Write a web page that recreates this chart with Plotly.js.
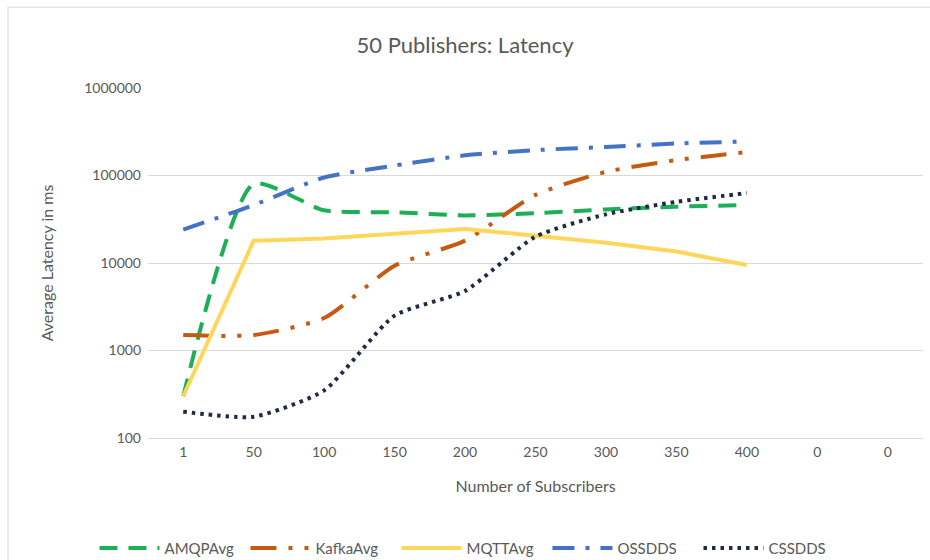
<!DOCTYPE html>
<html>
<head>
<meta charset="utf-8">
<script src="https://cdn.plot.ly/plotly-3.0.1.min.js"></script>
<style>html,body{margin:0;padding:0;background:#fff;}#chart{width:930px;height:560px;}</style>
</head>
<body>
<div id="chart"></div>
<script>
// Category tick labels (as in the source; last two read "0")
var tickLabels = ["1", "50", "100", "150", "200", "250", "300", "350", "400", "0", "0"];
// Series values (ms), one per category with data
var amqpAvg  = [300, 80000, 40000, 38000, 35000, 37000, 41000, 44000, 46000];
var kafkaAvg = [1500, 1500, 2350, 9300, 18000, 60000, 110000, 150000, 185000];
var mqttAvg  = [300, 18000, 19000, 21500, 24500, 20500, 17000, 13500, 9500];
var ossDDS   = [24000, 46000, 95000, 130000, 170000, 195000, 212000, 232000, 245000];
var cssDDS   = [200, 175, 350, 2500, 4800, 20000, 36000, 50000, 63000];

var seriesNames = ["AMQPAvg", "KafkaAvg", "MQTTAvg", "OSSDDS", "CSSDDS"];
var seriesData = [amqpAvg, kafkaAvg, mqttAvg, ossDDS, cssDDS];
var seriesStyle = [
  {color: "#1DAF55", dash: "18px,11px", shape: "spline"},
  {color: "#C55A11", dash: "26px,12px,4px,12px,4px,12px", shape: "spline"},
  {color: "#FFD65C", dash: "solid", shape: "linear"},
  {color: "#4472C4", dash: "22px,11px,4px,11px", shape: "spline"},
  {color: "#1F2A44", dash: "3.5px,5px", shape: "spline"}
];

var xIdx = tickLabels.map(function(_, i){ return i; });

var traces = seriesData.map(function(vals, k){
  return {
    type: "scatter",
    mode: "lines",
    name: seriesNames[k],
    x: xIdx.slice(0, vals.length),
    y: vals,
    line: {color: seriesStyle[k].color, width: 4, dash: seriesStyle[k].dash,
           shape: seriesStyle[k].shape, smoothing: 0.6}
  };
});

var grey = "#595959";
var layout = {
  width: 930, height: 560,
  paper_bgcolor: "#fff", plot_bgcolor: "#fff",
  font: {family: "Lato, 'Open Sans', sans-serif", color: grey, size: 14},
  margin: {l: 148, r: 7, t: 88, b: 122, autoexpand: false},
  title: {text: "50 Publishers: Latency", font: {size: 22, color: grey}, x: 0.5, xanchor: "center", y: 0.92, yanchor: "middle"},
  xaxis: {
    range: [-0.5, tickLabels.length - 0.5],
    tickmode: "array", tickvals: xIdx, ticktext: tickLabels,
    showgrid: false, zeroline: false,
    showline: true, linecolor: "#d9d9d9", linewidth: 1,
    ticks: "", tickfont: {size: 14, color: grey}, ticklabelstandoff: 1,
    title: {text: "Number of Subscribers", font: {size: 16, color: grey}, standoff: 22}
  },
  yaxis: {
    type: "log", range: [2, 6],
    tickmode: "array", tickvals: [100, 1000, 10000, 100000, 1000000],
    ticktext: ["100", "1000", "10000", "100000", "1000000"],
    showgrid: true, gridcolor: "#d9d9d9", gridwidth: 1,
    zeroline: false, showline: false, ticks: "",
    tickfont: {size: 14, color: grey}, ticklabelstandoff: 6,
    title: {text: "Average Latency in ms", font: {size: 16, color: grey}, standoff: 26}
  },
  legend: {
    orientation: "h", xref: "container", yref: "container",
    x: 0.5075, xanchor: "center", y: 0.021, yanchor: "middle",
    font: {size: 15, color: grey}, itemwidth: 60,
    entrywidth: 76, traceorder: "normal"
  },
  showlegend: true,
  shapes: [{type: "rect", xref: "paper", yref: "paper", x0: -0.1806, x1: 1.05, y0: -0.5, y1: 1.231,
            line: {color: "#e3e3e3", width: 1.5}, fillcolor: "rgba(0,0,0,0)", layer: "below"}]
};

Plotly.newPlot("chart", traces, layout, {displayModeBar: false, staticPlot: true});
</script>
</body>
</html>
